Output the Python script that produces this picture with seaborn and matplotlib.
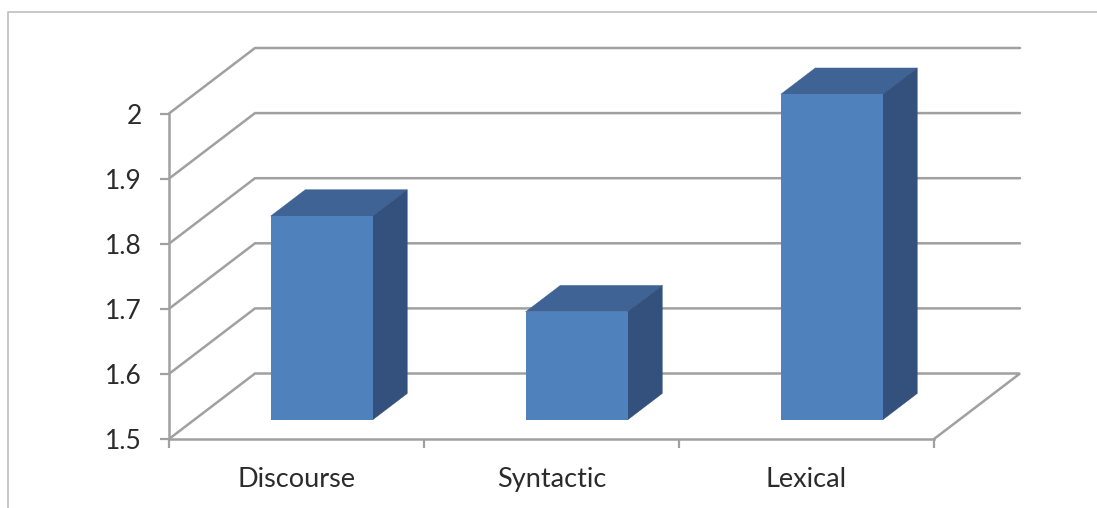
import matplotlib
matplotlib.use("Agg")
import matplotlib.pyplot as plt
from matplotlib.lines import Line2D
from matplotlib.patches import Polygon
from matplotlib.transforms import IdentityTransform
import numpy as np
import pandas as pd
import seaborn as sns

categories = ["Discourse", "Syntactic", "Lexical"]
scores = [1.813, 1.666, 2.0]
y_ticks = [1.5, 1.6, 1.7, 1.8, 1.9, 2.0]
y_labels = ["1.5", "1.6", "1.7", "1.8", "1.9", "2"]

W, H = 1097, 508
GRID = "#a0a0a0"
FRONT, TOP, SIDE = "#4f81bd", "#3f6395", "#34507d"
TEXT = "#2b2b2b"
# Screen-space shift from the front of the floor to the back wall, in pixels.
DEPTH = np.array([86.0, 65.5])
BAR_NEAR, BAR_FAR = 0.293, 0.695

sns.set_theme(style="white")
plt.rcParams["font.family"] = ["Lato", "DejaVu Sans"]

fig = plt.figure(figsize=(W / 100, H / 100), dpi=100)
ax = fig.add_axes([169 / W, 1 - 439 / H, (934 - 169) / W, (439 - 113.5) / H])

df = pd.DataFrame({"category": categories, "score": scores})
sns.barplot(data=df, x="category", y="score", order=categories, color=FRONT,
            saturation=1, width=0.4, linewidth=0, edgecolor="none", ax=ax)
ax.set_xlim(-0.5, 2.5)
ax.set_ylim(1.5, 2.0)
ax.set_xlabel("")
ax.set_ylabel("")


def project(x, y, depth):
    """Data position plus a fraction of the oblique depth, in display pixels."""
    return ax.transData.transform((x, y)) + depth * DEPTH


# Oblique wall and floor lines running from the front plane to the back wall.
x0, x1 = ax.get_xlim()
for tick in y_ticks:
    pts = [project(x0, tick, 0), project(x0, tick, 1), project(x1, tick, 1)]
    if tick == y_ticks[0]:
        pts.append(project(x1, tick, 0))
    xy = np.array(pts)
    ax.add_line(Line2D(xy[:, 0], xy[:, 1], transform=IdentityTransform(), color=GRID,
                       lw=1.8, zorder=1, clip_on=False, solid_joinstyle="miter"))

# Each bar is a box: the seaborn patch becomes its front face, shifted into depth.
base = y_ticks[0]
for patch in list(ax.patches):
    left, right, value = patch.get_x(), patch.get_x() + patch.get_width(), patch.get_height()
    a = project(left, base, BAR_NEAR)
    b = project(right, value, BAR_NEAR)
    ax.add_patch(Polygon([project(left, value, BAR_NEAR), project(right, value, BAR_NEAR),
                          project(right, value, BAR_FAR), project(left, value, BAR_FAR)],
                         closed=True, transform=IdentityTransform(), facecolor=TOP,
                         edgecolor=TOP, lw=0.3, zorder=3, clip_on=False))
    ax.add_patch(Polygon([project(right, base, BAR_NEAR), project(right, value, BAR_NEAR),
                          project(right, value, BAR_FAR), project(right, base, BAR_FAR)],
                         closed=True, transform=IdentityTransform(), facecolor=SIDE,
                         edgecolor=SIDE, lw=0.3, zorder=3, clip_on=False))
    inv = ax.transData.inverted()
    (dl, db), (dr, dt) = inv.transform(a), inv.transform(b)
    patch.set_x(dl)
    patch.set_width(dr - dl)
    patch.set_y(db)
    patch.set_height(dt - db)
    patch.set_clip_on(False)
    patch.set_zorder(3.5)

# Axes frame and ticks.
sns.despine(ax=ax, top=True, right=True)
for side in ("left", "bottom"):
    ax.spines[side].set_color(GRID)
    ax.spines[side].set_linewidth(1.8)
    ax.spines[side].set_zorder(2)

ax.set_yticks(y_ticks, y_labels)
ax.set_xticks(range(len(categories)), categories)
ax.set_xticks(np.arange(-0.5, 3.0, 1.0), minor=True)
ax.tick_params(axis="y", which="major", left=True, length=6.5, width=1.6, color=GRID,
               labelsize=19, labelcolor=TEXT, pad=13)
ax.tick_params(axis="x", which="major", bottom=False, length=0, labelsize=19.5,
               labelcolor=TEXT, pad=20)
ax.tick_params(axis="x", which="minor", bottom=True, length=6.5, width=1.6, color=GRID)

# Thin chart-area border on the top and left.
fig.add_artist(Line2D([8 / W, 8 / W, 1], [0, 1 - 12 / H, 1 - 12 / H],
                      transform=fig.transFigure, color="#c4c4c4", lw=1.3))

fig.savefig("out.png", dpi=100, facecolor="white")
